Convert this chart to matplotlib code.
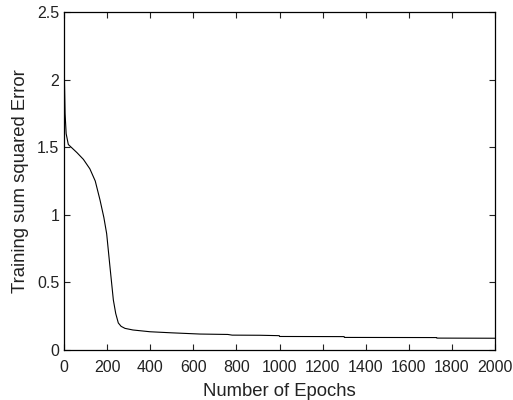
import matplotlib
matplotlib.use("Agg")
import matplotlib.pyplot as plt

# training error
epochs = [0, 2, 5, 10, 20, 40, 60, 90, 120, 145, 167, 185, 198, 213, 229, 240, 252, 265, 283,
          320, 399, 500, 631, 760, 780, 910, 999, 1000, 1300, 1301, 1729, 1730, 2000]
error = [2.29, 2.0, 1.75, 1.6, 1.52, 1.49, 1.46, 1.41, 1.34, 1.25, 1.11, 0.98, 0.86, 0.62, 0.37, 0.27, 0.2, 0.175, 0.16,
         0.148, 0.135, 0.127, 0.118, 0.115, 0.11, 0.109, 0.106, 0.100, 0.099, 0.093, 0.092, 0.088, 0.087]

xticks = list(range(0, 2001, 200))
yticks = [0, 0.5, 1, 1.5, 2, 2.5]

plt.rcParams['font.family'] = ['Liberation Sans', 'DejaVu Sans']

fig = plt.figure(figsize=(5.13, 4.0), dpi=100)
ax = fig.add_axes([64/513, 50/400, 431/513, 338/400])
ax.plot(epochs, error, color='black', linewidth=0.8)
ax.set_xlim(0, 2000)
ax.set_ylim(0, 2.5)
ax.set_xticks(xticks)
ax.set_xticklabels([str(t) for t in xticks])
ax.set_yticks(yticks)
ax.set_yticklabels(['0', '0.5', '1', '1.5', '2', '2.5'])
ax.tick_params(direction='in', top=True, right=True, length=4, labelsize=11.5, colors='#222222')
ax.tick_params(axis='x', pad=7)
for s in ax.spines.values():
    s.set_linewidth(0.9)
ax.set_xlabel('Number of Epochs', fontsize=13.3, color='#222222', labelpad=6)
ax.set_ylabel('Training sum squared Error', fontsize=13.3, color='#222222', labelpad=6)

fig.savefig('out.png', dpi=100)
